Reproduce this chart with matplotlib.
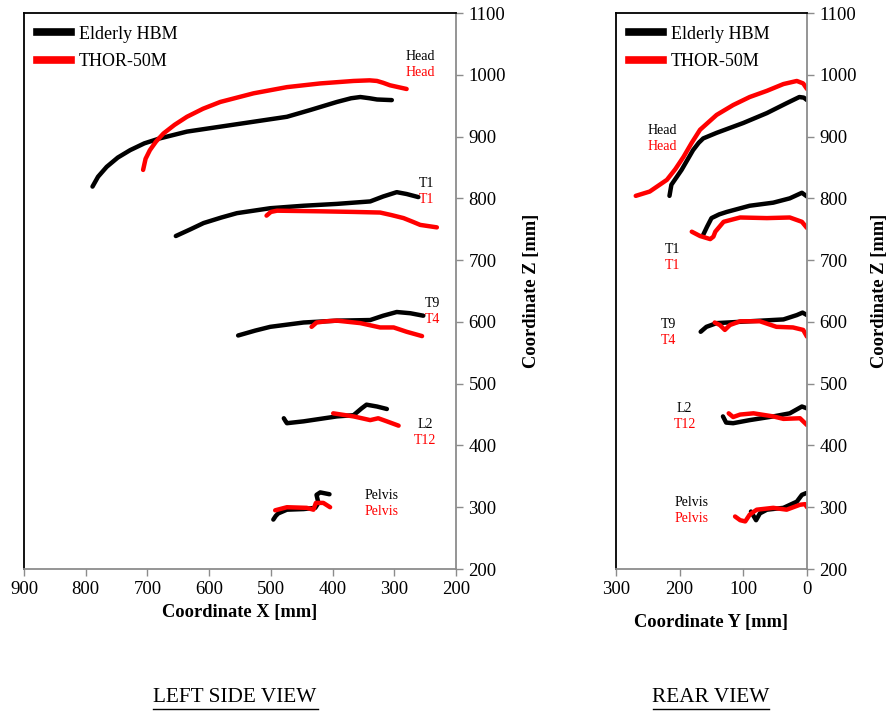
"""
Head / spine trajectories: Elderly HBM vs THOR-50M
Left side view (X-Z) and rear view (Y-Z).
"""

import matplotlib
matplotlib.use("Agg")
import matplotlib.pyplot as plt
from matplotlib.lines import Line2D


# ============================================================
# Data (mm)
# ============================================================

# ---- left side view: (X, Z) ----
side_hbm_head_x = [789, 780, 766, 748, 728, 705, 680, 636, 582, 528, 474, 436, 393, 370, 355, 340, 328, 304]
side_hbm_head_z = [819, 835, 851, 866, 878, 889, 897, 908, 916, 924, 932, 943, 956, 962, 964, 962, 960, 959]
side_thor_head_x = [707, 703, 696, 686, 674, 656, 636, 610, 582, 528, 474, 420, 366, 340, 328, 318, 307, 280]
side_thor_head_z = [846, 864, 878, 892, 905, 919, 932, 945, 956, 970, 980, 986, 990, 991, 990, 987, 983, 977]

side_hbm_t1_x = [654, 630, 609, 580, 555, 501, 447, 393, 339, 318, 296, 280, 261]
side_hbm_t1_z = [739, 750, 760, 769, 776, 784, 788, 791, 795, 803, 810, 807, 802]
side_thor_t1_x = [507, 500, 490, 420, 366, 323, 305, 285, 270, 258, 231]
side_thor_t1_z = [772, 778, 780, 779, 778, 777, 773, 768, 762, 757, 753]

side_hbm_t9_x = [553, 525, 501, 447, 393, 339, 318, 296, 274, 253]
side_hbm_t9_z = [578, 586, 592, 599, 602, 603, 610, 616, 614, 610]
side_thor_t4_x = [434, 426, 410, 393, 355, 323, 301, 280, 255]
side_thor_t4_z = [592, 599, 601, 602, 598, 591, 591, 584, 577]

side_hbm_l2_x = [479, 476, 474, 447, 393, 366, 353, 345, 328, 312]
side_hbm_l2_z = [444, 439, 436, 439, 447, 449, 460, 466, 463, 459]
side_thor_t12_x = [399, 366, 339, 326, 312, 293]
side_thor_t12_z = [452, 447, 441, 444, 439, 432]

side_hbm_pelvis_x = [496, 492, 488, 474, 447, 428, 423, 426, 420, 405]
side_hbm_pelvis_z = [280, 286, 290, 296, 297, 299, 307, 320, 324, 321]
side_thor_pelvis_x = [493, 474, 442, 431, 427, 415, 404]
side_thor_pelvis_z = [295, 300, 299, 296, 307, 307, 300]

# ---- rear view: (Y, Z) ----
rear_hbm_head_y = [216, 213, 205, 197, 188, 179, 170, 163, 142, 100, 63, 32, 12, 5, 0]
rear_hbm_head_z = [804, 822, 834, 846, 862, 878, 890, 897, 906, 922, 938, 954, 964, 963, 959]
rear_thor_head_y = [269, 247, 220, 207, 194, 181, 168, 142, 116, 90, 63, 37, 16, 6, 0]
rear_thor_head_z = [804, 811, 830, 847, 867, 890, 911, 935, 951, 964, 974, 985, 990, 986, 977]

rear_hbm_t1_y = [163, 157, 150, 138, 126, 90, 53, 27, 8, 0]
rear_hbm_t1_z = [741, 754, 768, 774, 778, 788, 793, 800, 809, 803]
rear_thor_t1_y = [181, 168, 152, 147, 144, 131, 105, 63, 27, 8, 0]
rear_thor_t1_z = [746, 739, 734, 738, 746, 762, 769, 768, 769, 762, 752]

rear_hbm_t9_y = [167, 158, 142, 90, 37, 16, 7, 0]
rear_hbm_t9_z = [584, 592, 598, 601, 604, 611, 615, 611]
rear_thor_t4_y = [145, 137, 129, 121, 105, 74, 48, 22, 6, 0]
rear_thor_t4_z = [599, 595, 587, 595, 601, 601, 592, 591, 587, 576]

rear_hbm_l2_y = [132, 127, 116, 90, 53, 27, 8, 0]
rear_hbm_l2_z = [447, 437, 436, 441, 447, 452, 463, 460]
rear_thor_t12_y = [123, 116, 105, 84, 53, 37, 11, 0]
rear_thor_t12_z = [452, 446, 450, 452, 447, 443, 444, 433]

rear_hbm_pelvis_y = [88, 80, 74, 63, 37, 16, 8, 1]
rear_hbm_pelvis_z = [293, 279, 290, 296, 299, 309, 320, 323]
rear_thor_pelvis_y = [113, 105, 97, 90, 79, 53, 32, 11, 3, 0]
rear_thor_pelvis_z = [285, 279, 277, 288, 296, 299, 296, 304, 305, 300]

# segment labels: (black name, red name, x, z) per view
side_labels = [("Head", "Head", 258, 1029), ("T1", "T1", 247, 824),
               ("T9", "T4", 238, 630), ("L2", "T12", 250, 434),
               ("Pelvis", "Pelvis", 321, 319)]
rear_labels = [("Head", "Head", 228, 910), ("T1", "T1", 211, 717),
               ("T9", "T4", 218, 596), ("L2", "T12", 192, 460),
               ("Pelvis", "Pelvis", 181, 307)]

z_ticks = list(range(200, 1101, 100))
side_x_ticks = list(range(200, 901, 100))
rear_y_ticks = [0, 100, 200, 300]

SERIF = "Liberation Serif"
RED = "#ff0000"
GRAY = "#8c8c8c"
LW = 3.2


# ============================================================
# Helpers
# ============================================================

def style_axes(ax, xlim, xticks, xlabel, xpad, ypad):
    ax.set_xlim(*xlim)
    ax.set_ylim(200, 1100)
    ax.set_xticks(xticks)
    ax.set_yticks(z_ticks)
    ax.yaxis.tick_right()
    ax.yaxis.set_label_position("right")
    for s in ("left", "top"):
        ax.spines[s].set_color("black")
        ax.spines[s].set_linewidth(1.3)
    for s in ("right", "bottom"):
        ax.spines[s].set_color(GRAY)
        ax.spines[s].set_linewidth(1.3)
    ax.tick_params(direction="out", length=5, color=GRAY, width=1,
                   labelsize=13.5, pad=4)
    for lab in ax.get_xticklabels() + ax.get_yticklabels():
        lab.set_family(SERIF)
    ax.set_xlabel(xlabel, family=SERIF, fontsize=13.3, fontweight="bold",
                  labelpad=xpad)
    ax.set_ylabel("Coordinate Z [mm]", family=SERIF, fontsize=13.3,
                  fontweight="bold", labelpad=ypad)

    handles = [Line2D([], [], color="black", lw=5.5),
               Line2D([], [], color=RED, lw=5.5)]
    ax.legend(handles, ["Elderly HBM", "THOR-50M"], loc="upper left",
              frameon=False, prop={"family": SERIF, "size": 13},
              handlelength=1.9, borderaxespad=0.3, labelspacing=0.6,
              handletextpad=0.45)


def draw_pairs(ax, pairs, labels, dz=-26):
    for (bx, bz, rx, rz) in pairs:
        ax.plot(bx, bz, color="black", lw=LW, solid_capstyle="round",
                solid_joinstyle="round")
        ax.plot(rx, rz, color=RED, lw=LW, solid_capstyle="round",
                solid_joinstyle="round")
    for black, red, x, z in labels:
        ax.text(x, z, black, color="black", family=SERIF, fontsize=10,
                ha="center", va="center")
        ax.text(x, z + dz, red, color=RED, family=SERIF, fontsize=10,
                ha="center", va="center")


# ============================================================
# Figure
# ============================================================

fig = plt.figure(figsize=(8.9, 7.17), dpi=100)
ax_side = fig.add_axes([24 / 890, 148 / 717, 432 / 890, 556 / 717])
ax_rear = fig.add_axes([616 / 890, 148 / 717, 191 / 890, 556 / 717])

draw_pairs(ax_side, [
    (side_hbm_head_x, side_hbm_head_z, side_thor_head_x, side_thor_head_z),
    (side_hbm_t1_x, side_hbm_t1_z, side_thor_t1_x, side_thor_t1_z),
    (side_hbm_t9_x, side_hbm_t9_z, side_thor_t4_x, side_thor_t4_z),
    (side_hbm_l2_x, side_hbm_l2_z, side_thor_t12_x, side_thor_t12_z),
    (side_hbm_pelvis_x, side_hbm_pelvis_z, side_thor_pelvis_x, side_thor_pelvis_z),
], side_labels)

draw_pairs(ax_rear, [
    (rear_hbm_head_y, rear_hbm_head_z, rear_thor_head_y, rear_thor_head_z),
    (rear_hbm_t1_y, rear_hbm_t1_z, rear_thor_t1_y, rear_thor_t1_z),
    (rear_hbm_t9_y, rear_hbm_t9_z, rear_thor_t4_y, rear_thor_t4_z),
    (rear_hbm_l2_y, rear_hbm_l2_z, rear_thor_t12_y, rear_thor_t12_z),
    (rear_hbm_pelvis_y, rear_hbm_pelvis_z, rear_thor_pelvis_y, rear_thor_pelvis_z),
], rear_labels)

style_axes(ax_side, (900, 200), side_x_ticks, "Coordinate X [mm]", 4, 12)
style_axes(ax_rear, (300, 0), rear_y_ticks, "Coordinate Y [mm]", 11, 10)

# underlined view captions
for text, cx, x0, x1 in [("LEFT SIDE VIEW", 235, 153, 318),
                         ("REAR VIEW", 711, 653, 769)]:
    fig.text(cx / 890, 1 - 698 / 717, text, family=SERIF, fontsize=15.3,
             ha="center", va="center")
    fig.add_artist(Line2D([x0 / 890, x1 / 890], [1 - 709 / 717] * 2,
                          color="black", lw=1, transform=fig.transFigure))

fig.savefig("out.png", dpi=100)
